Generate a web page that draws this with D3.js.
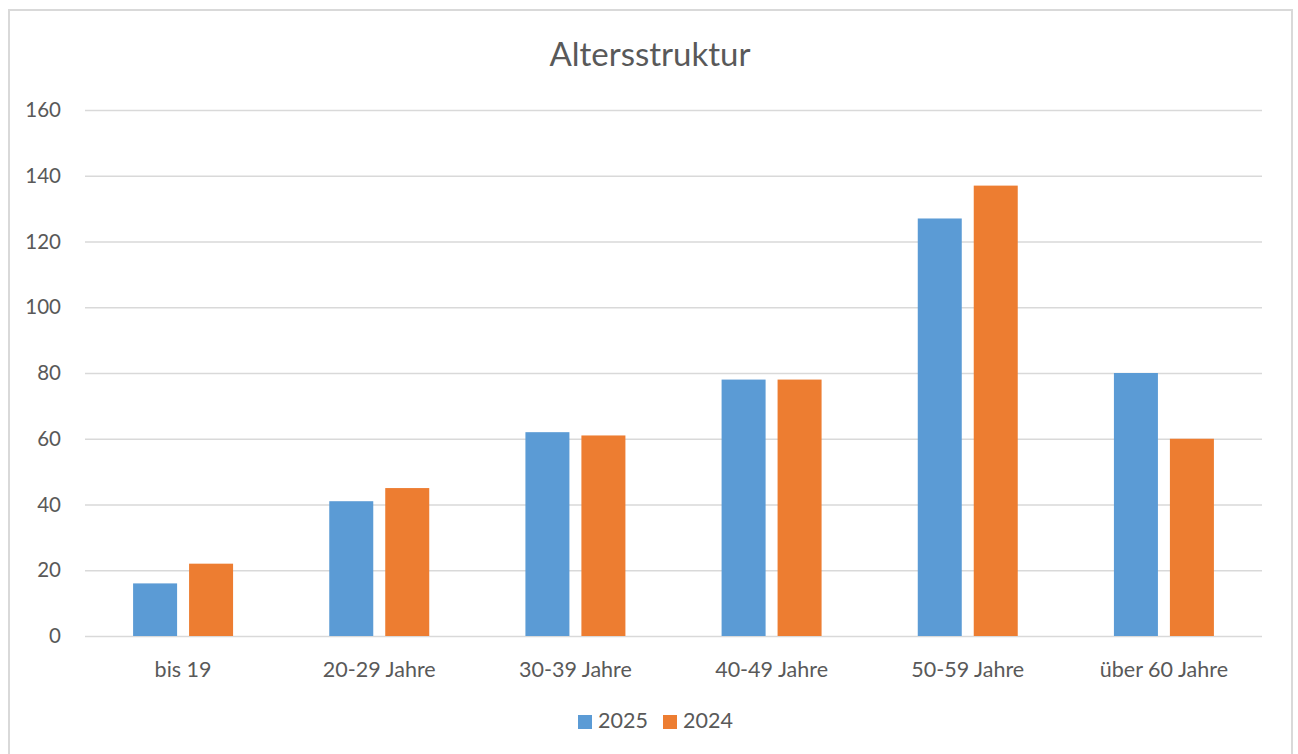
<!DOCTYPE html>
<html><head><meta charset="utf-8">
<script src="https://cdn.jsdelivr.net/npm/d3@7"></script>
<style>body{margin:0;background:#fff}svg{display:block}text{font-family:Lato,"Open Sans",sans-serif;fill:#595959}</style>
</head><body><svg id="c" width="1298" height="754"></svg>
<script>
const categories = ["bis 19","20-29 Jahre","30-39 Jahre","40-49 Jahre","50-59 Jahre","über 60 Jahre"];
const series = ["2025","2024"];
const values2025 = [16,41,62,78,127,80];
const values2024 = [22,45,61,78,137,60];
const yTicks = [0,20,40,60,80,100,120,140,160];
const colors = ["#5B9BD5","#ED7D31"];
const title = "Altersstruktur";

const svg = d3.select("#c");
svg.append("rect").attr("x",9).attr("y",10).attr("width",1283).attr("height",760)
  .attr("fill","#fff").attr("stroke","#d9d9d9").attr("stroke-width",2);

const L=85,R=1262,T=110,B=636;
const x0 = d3.scaleBand().domain(categories).range([L,R]).padding(0);
const x1 = d3.scaleBand().domain(series).range([0,x0.bandwidth()]).paddingInner(0.214).paddingOuter(0.859);
const y = d3.scaleLinear().domain([0,160]).range([B,T]);

const yAxis = d3.axisLeft(y).tickValues(yTicks).tickSize(-(R-L)).tickPadding(24);
const gy = svg.append("g").attr("transform",`translate(${L},0)`).call(yAxis);
gy.select(".domain").remove();
gy.selectAll(".tick line").attr("stroke","#d9d9d9").attr("stroke-width",1.5);
gy.selectAll(".tick text").attr("font-size",20.5).attr("fill","#595959");

const data = categories.map((c,i)=>({c, v:[values2025[i],values2024[i]]}));
const g = svg.append("g");
data.forEach(d=>{
  series.forEach((s,j)=>{
    g.append("rect").attr("x",x0(d.c)+x1(s)).attr("width",x1.bandwidth())
      .attr("y",y(d.v[j])).attr("height",y(0)-y(d.v[j])).attr("fill",colors[j]);
  });
});

const xAxis = d3.axisBottom(x0).tickSize(0).tickPadding(26);
const gx = svg.append("g").attr("transform",`translate(0,${B})`).call(xAxis);
gx.select(".domain").remove();
gx.selectAll(".tick text").attr("font-size",21.5).attr("fill","#595959");

svg.append("text").attr("x",650).attr("y",66).attr("text-anchor","middle")
  .attr("font-size",33).text(title);

const legX = [578,663];
series.forEach((s,j)=>{
  svg.append("rect").attr("x",legX[j]).attr("y",715).attr("width",14).attr("height",14).attr("fill",colors[j]);
  svg.append("text").attr("x",legX[j]+20).attr("y",728).attr("font-size",21.5).text(s);
});
</script></body></html>
